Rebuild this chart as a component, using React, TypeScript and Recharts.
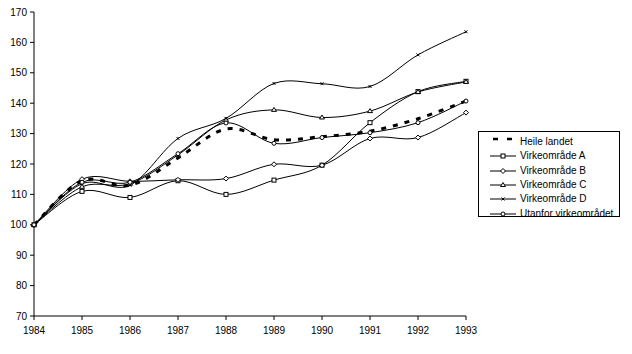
import React from 'react';
import { LineChart, Line, XAxis, YAxis, Legend } from 'recharts';

const years = [1984, 1985, 1986, 1987, 1988, 1989, 1990, 1991, 1992, 1993];
const heileLandet = [100, 114.5, 113, 122, 131.5, 128, 129, 130.8, 134.9, 140.7];
const omradeA = [100, 111, 109, 114.5, 110, 114.7, 119.6, 133.6, 143.8, 147.2];
const omradeB = [100, 115, 114.3, 114.8, 115.2, 119.9, 119.6, 128.4, 128.7, 136.9];
const omradeC = [100, 112.5, 113.5, 123, 134.5, 137.8, 135.3, 137.4, 143.7, 147];
const omradeD = [100, 113.5, 113, 128.4, 135, 146.5, 146.4, 145.5, 155.9, 163.5];
const utanfor = [100, 114, 114, 123.4, 133.5, 126.8, 128.7, 130.3, 133.6, 140.7];
const yTicks = [70, 80, 90, 100, 110, 120, 130, 140, 150, 160, 170];

const data = years.map((year, i) => ({
  year,
  heile: heileLandet[i],
  a: omradeA[i],
  b: omradeB[i],
  c: omradeC[i],
  d: omradeD[i],
  u: utanfor[i],
}));

const FONT = '"Liberation Sans Narrow", "Liberation Sans", Arial, sans-serif';

// Excel-like smoothing (catmull-rom through the points)
const smooth: any = (context: any) => {
  let pts: number[][] = [];
  return {
    areaStart() {},
    areaEnd() {},
    lineStart() { pts = []; },
    point(x: number, y: number) { pts.push([+x, +y]); },
    lineEnd() {
      if (!pts.length) return;
      context.moveTo(pts[0][0], pts[0][1]);
      for (let i = 0; i < pts.length - 1; i++) {
        const p0 = pts[i - 1] || pts[i];
        const p1 = pts[i];
        const p2 = pts[i + 1];
        const p3 = pts[i + 2] || p2;
        context.bezierCurveTo(
          p1[0] + (p2[0] - p0[0]) / 6, p1[1] + (p2[1] - p0[1]) / 6,
          p2[0] - (p3[0] - p1[0]) / 6, p2[1] - (p3[1] - p1[1]) / 6,
          p2[0], p2[1]
        );
      }
    },
  };
};

type Shape = 'square' | 'diamond' | 'triangle' | 'cross' | 'circle';

const Marker = ({ cx, cy, shape }: { cx: number; cy: number; shape: Shape }) => {
  const s = { fill: '#fff', stroke: '#000', strokeWidth: 1 };
  if (shape === 'square') return <rect x={cx - 2} y={cy - 2} width={4} height={4} {...s} />;
  if (shape === 'diamond') return <polygon points={`${cx},${cy - 2.5} ${cx + 2.5},${cy} ${cx},${cy + 2.5} ${cx - 2.5},${cy}`} {...s} />;
  if (shape === 'triangle') return <polygon points={`${cx},${cy - 2.5} ${cx + 2.5},${cy + 1.5} ${cx - 2.5},${cy + 1.5}`} {...s} />;
  if (shape === 'cross') return <path d={`M${cx - 1.5},${cy - 1.5}L${cx + 1.5},${cy + 1.5}M${cx + 1.5},${cy - 1.5}L${cx - 1.5},${cy + 1.5}`} stroke="#000" />;
  return <circle cx={cx} cy={cy} r={2} {...s} />;
};

const dot = (shape: Shape) => (props: any) => (
  <g key={`${shape}-${props.index}`}>
    <Marker cx={props.cx} cy={props.cy} shape={shape} />
  </g>
);

const series: { key: string; name: string; shape: Shape | null }[] = [
  { key: 'heile', name: 'Heile landet', shape: null },
  { key: 'a', name: 'Virkeområde A', shape: 'square' },
  { key: 'b', name: 'Virkeområde B', shape: 'diamond' },
  { key: 'c', name: 'Virkeområde C', shape: 'triangle' },
  { key: 'd', name: 'Virkeområde D', shape: 'cross' },
  { key: 'u', name: 'Utanfor virkeområdet', shape: 'circle' },
];

const renderLegend = () => (
  <div style={{ border: '1px solid #000', width: 142, height: 86, paddingTop: 3, boxSizing: 'border-box', background: '#fff', fontFamily: FONT, fontSize: 10, color: '#000', overflow: 'visible' }}>
    {series.map(s => (
      <div key={s.key} style={{ height: 14.3, display: 'flex', alignItems: 'center' }}>
        <svg width={26} height={10} style={{ marginLeft: 11, marginRight: 4 }}>
          {s.shape ? (
            <>
              <line x1={0} y1={5} x2={26} y2={5} stroke="#000" />
              <Marker cx={13} cy={5} shape={s.shape} />
            </>
          ) : (
            <line x1={3} y1={2} x2={22} y2={2} stroke="#000" strokeWidth={2.5} strokeDasharray="5 9" />
          )}
        </svg>
        <span style={{ lineHeight: '12px', whiteSpace: 'nowrap' }}>{s.name}</span>
      </div>
    ))}
  </div>
);

export default function App() {
  const tick = { fill: '#000', fontSize: 10, fontFamily: FONT };
  return (
    <div style={{ position: 'fixed', left: 0, top: 0, width: 632, height: 354, background: '#fff' }}>
      <LineChart width={632} height={354} data={data} margin={{ top: 12, right: 166, bottom: 8, left: 0 }}>
        <XAxis
          dataKey="year"
          type="number"
          domain={[1984, 1993]}
          ticks={years}
          interval={0}
          height={30}
          tickSize={4}
          tickMargin={7}
          tick={tick}
          stroke="#000"
        />
        <YAxis
          domain={[70, 170]}
          ticks={yTicks}
          interval={0}
          width={34}
          tickSize={4}
          tickMargin={3}
          tick={tick}
          stroke="#000"
        />
        <Legend
          layout="vertical"
          align="center"
          verticalAlign="middle"
          content={renderLegend}
          wrapperStyle={{ left: 478, top: 131, width: 144 }}
        />
        {series.filter(s => s.shape).map(s => (
          <Line
            key={s.key}
            dataKey={s.key}
            name={s.name}
            type={smooth}
            stroke="#000"
            strokeWidth={1}
            dot={dot(s.shape as Shape)}
            activeDot={false}
            isAnimationActive={false}
          />
        ))}
        <Line
          dataKey="heile"
          name="Heile landet"
          type={smooth}
          stroke="#000"
          strokeWidth={3}
          strokeDasharray="5 7"
          dot={false}
          activeDot={false}
          isAnimationActive={false}
        />
      </LineChart>
    </div>
  );
}
